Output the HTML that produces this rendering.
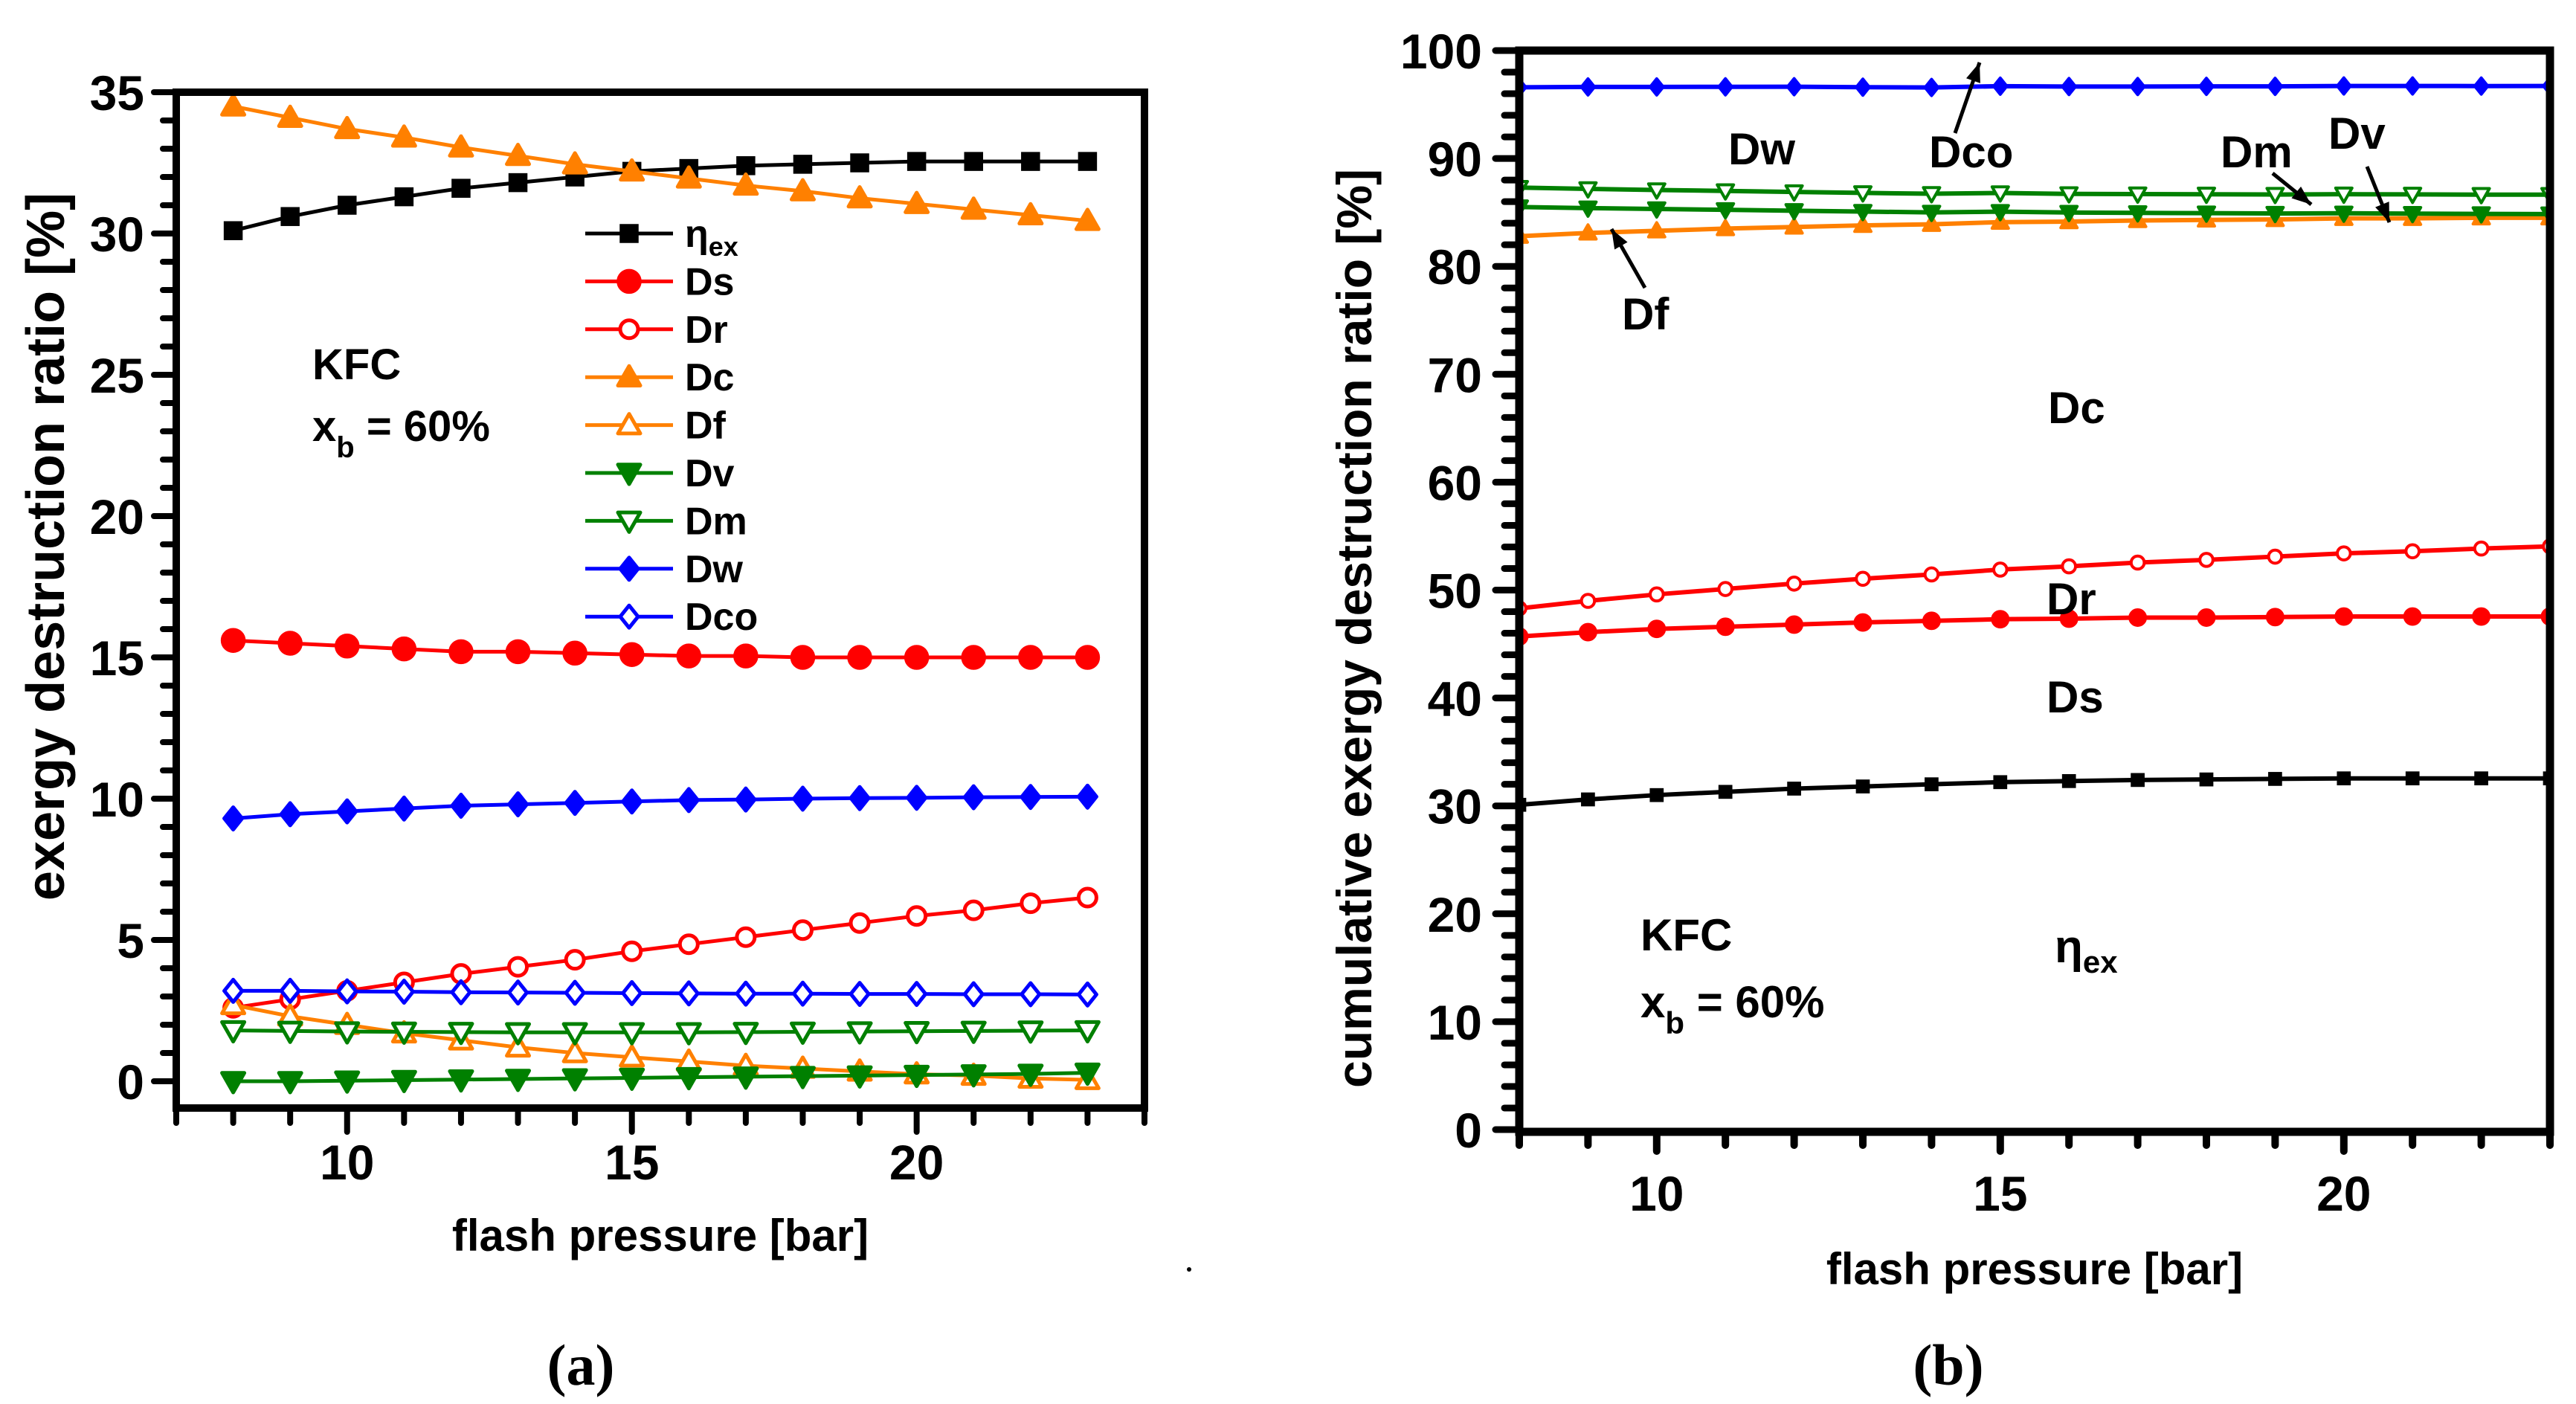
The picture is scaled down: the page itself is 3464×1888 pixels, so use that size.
<!DOCTYPE html>
<html><head><meta charset="utf-8">
<style>
html,body{margin:0;padding:0;background:#fff;}
svg{display:block;}
text{font-family:"Liberation Sans",Arial,sans-serif;font-weight:bold;fill:#000;}
</style></head>
<body>
<svg id="fig" width="3464" height="1888" viewBox="0 0 3464 1888" xmlns="http://www.w3.org/2000/svg">
<rect width="3464" height="1888" fill="#fff"/>
<g id="pa"></g>
<g id="pb"></g>
<text x="781" y="1862" font-size="78" text-anchor="middle" style="font-family:'Liberation Serif',serif">(a)</text>
<text x="2620" y="1862" font-size="78" text-anchor="middle" style="font-family:'Liberation Serif',serif">(b)</text>
<circle cx="1599" cy="1707" r="3" fill="#000"/>
</svg>
<script>
const pressures=[8,9,10,11,12,13,14,15,16,17,18,19,20,21,22,23];
const etaEx=[30.1,30.6,31.0,31.3,31.6,31.8,32.0,32.2,32.3,32.4,32.45,32.5,32.55,32.55,32.55,32.55];
const Ds=[15.6,15.5,15.4,15.3,15.2,15.2,15.15,15.1,15.05,15.05,15.0,15.0,15.0,15.0,15.0,15.0];
const Dr=[2.6,2.9,3.2,3.5,3.8,4.05,4.3,4.6,4.85,5.1,5.35,5.6,5.85,6.05,6.3,6.5];
const Dc=[34.5,34.1,33.7,33.4,33.05,32.75,32.45,32.2,31.95,31.7,31.5,31.25,31.05,30.85,30.65,30.45];
const Df=[2.7,2.3,2.0,1.7,1.45,1.2,1.0,0.85,0.7,0.55,0.45,0.35,0.25,0.2,0.1,0.05];
const Dv=[0,0,0.02,0.04,0.06,0.08,0.1,0.12,0.14,0.16,0.18,0.2,0.22,0.24,0.26,0.3];
const Dm=[1.8,1.78,1.76,1.75,1.74,1.73,1.73,1.73,1.73,1.74,1.75,1.76,1.77,1.78,1.79,1.8];
const Dw=[9.3,9.45,9.55,9.65,9.75,9.8,9.85,9.9,9.95,9.97,10.0,10.02,10.03,10.05,10.06,10.07];
const Dco=[3.2,3.2,3.18,3.17,3.15,3.14,3.13,3.12,3.11,3.1,3.1,3.09,3.09,3.08,3.08,3.07];
const yTicksA=[0,5,10,15,20,25,30,35];
const yTicksB=[0,10,20,30,40,50,60,70,80,90,100];
const xTicks=[10,15,20];

const NS="http://www.w3.org/2000/svg";
function mk(parent,tag,attrs){const e=document.createElementNS(NS,tag);for(const k in attrs)e.setAttribute(k,attrs[k]);parent.appendChild(e);return e;}

function marker(g,type,cx,cy,s,color,sw){
  let e;
  const h=s/2;
  const fill=type.endsWith('o')?'#fff':color;
  const t=type.replace(/o$/,'');
  if(t==='sq') e=mk(g,'rect',{x:cx-h*0.85,y:cy-h*0.85,width:s*0.85,height:s*0.85,fill:color});
  else if(t==='ci') e=mk(g,'circle',{cx:cx,cy:cy,r:h*(fill==='#fff'?0.8:0.95),fill:fill,stroke:color,'stroke-width':sw});
  else if(t==='tu') e=mk(g,'polygon',{points:`${cx},${cy-h} ${cx+h},${cy+h*0.75} ${cx-h},${cy+h*0.75}`,fill:fill,stroke:color,'stroke-width':sw,'stroke-linejoin':'round'});
  else if(t==='td') e=mk(g,'polygon',{points:`${cx},${cy+h} ${cx+h},${cy-h*0.75} ${cx-h},${cy-h*0.75}`,fill:fill,stroke:color,'stroke-width':sw,'stroke-linejoin':'round'});
  else if(t==='di') e=mk(g,'polygon',{points:`${cx},${cy-h} ${cx+h*0.8},${cy} ${cx},${cy+h} ${cx-h*0.8},${cy}`,fill:fill,stroke:color,'stroke-width':sw,'stroke-linejoin':'round'});
  return e;
}

function series(g,name,vals,xf,yf,color,type,ms,lw,mw){
  const sg=mk(g,'g',{});
  
  
  const pts=pressures.map((p,i)=>xf(p)+','+yf(vals[i])).join(' ');
  mk(sg,'polyline',{points:pts,fill:'none',stroke:color,'stroke-width':lw,'stroke-linejoin':'round'});
  pressures.forEach((p,i)=>{
    const m=marker(sg,type,xf(p),yf(vals[i]),ms,color,mw);
    
    
  });
}

/* ---------- Chart A ---------- */
const A=document.getElementById('pa');
const axL=237,axR=1539,axT=124,axB=1490;
const xA=v=>axL+(v-7)*(axR-axL)/17;
const yA=v=>1454-v*38;
for(let v=7;v<=24;v++){const maj=xTicks.includes(v);mk(A,'line',{x1:xA(v),y1:axB,x2:xA(v),y2:axB+(maj?32:20),stroke:'#000','stroke-width':8,'stroke-linecap':'round'});}
for(let v=0;v<=35;v++){const maj=v%5===0;mk(A,'line',{x1:axL,y1:yA(v),x2:axL-(maj?30:18),y2:yA(v),stroke:'#000','stroke-width':8,'stroke-linecap':'round'});}
yTicksA.forEach(v=>{const t=mk(A,'text',{x:194,y:yA(v)+24,'font-size':66,'text-anchor':'end'});t.textContent=v;

});
xTicks.forEach(v=>{const t=mk(A,'text',{x:xA(v),y:1586,'font-size':66,'text-anchor':'middle'});t.textContent=v;

});
const sA=[['eta-ex-series',etaEx,'#000','sq'],['ds-series',Ds,'#ff0000','ci'],['dr-series',Dr,'#ff0000','cio'],['dc-series',Dc,'#ff8000','tu'],['df-series',Df,'#ff8000','tuo'],['dv-series',Dv,'#008000','td'],['dm-series',Dm,'#008000','tdo'],['dw-series',Dw,'#0000ff','di'],['dco-series',Dco,'#0000ff','dio']];
sA.forEach(s=>series(A,s[0],s[1],xA,yA,s[2],s[3],30,5,5));
mk(A,'rect',{x:axL,y:axT,width:axR-axL,height:axB-axT,fill:'none',stroke:'#000','stroke-width':10});
const legLabels=['η','Ds','Dr','Dc','Df','Dv','Dm','Dw','Dco'];
sA.forEach((s,i)=>{
  const y=314+i*64.4;
  const lg=mk(A,'g',{});
  
  
  mk(lg,'line',{x1:787,y1:y,x2:905,y2:y,stroke:s[2],'stroke-width':5});
  marker(lg,s[3],846,y,30,s[2],5);
  const t=mk(lg,'text',{x:921,y:y+18,'font-size':52});
  t.textContent=legLabels[i];
  if(i===0){const ts=mk(t,'tspan',{'font-size':36,dy:12});ts.textContent='ex';}
});
let t;
t=mk(A,'text',{x:420,y:510,'font-size':58});t.textContent='KFC';


t=mk(A,'text',{x:420,y:593,'font-size':58});t.innerHTML='x<tspan font-size="40" dy="22">b</tspan><tspan dy="-22"> = 60%</tspan>';


t=mk(A,'text',{x:888,y:1682,'font-size':60,'text-anchor':'middle'});t.textContent='flash pressure [bar]';


t=mk(A,'text',{x:0,y:0,'font-size':72,'text-anchor':'middle','dominant-baseline':'central',transform:'translate(62,735) rotate(-90)'});t.textContent='exergy destruction ratio [%]';



/* ---------- Chart B ---------- */
const B=document.getElementById('pb');
const bL=2043,bR=3429,bT=68,bB=1522;
const xB=v=>bL+(v-8)*(bR-bL)/15;
const yB=v=>1519-v*14.51;
for(let v=8;v<=23;v++){const maj=xTicks.includes(v);mk(B,'line',{x1:xB(v),y1:bB,x2:xB(v),y2:bB+(maj?26:18),stroke:'#000','stroke-width':10,'stroke-linecap':'round'});}
for(let v=0;v<=100;v+=2){const maj=v%10===0;mk(B,'line',{x1:bL,y1:yB(v),x2:bL-(maj?32:20),y2:yB(v),stroke:'#000','stroke-width':9,'stroke-linecap':'round'});}
yTicksB.forEach(v=>{const tt=mk(B,'text',{x:1993,y:yB(v)+24,'font-size':66,'text-anchor':'end'});tt.textContent=v;

});
xTicks.forEach(v=>{const tt=mk(B,'text',{x:xB(v),y:1628,'font-size':66,'text-anchor':'middle'});tt.textContent=v;

});
const cum=(...arrs)=>pressures.map((_,i)=>arrs.reduce((s,a)=>s+a[i],0));
const sB=[['cum-eta-ex',cum(etaEx),'#000','sq'],['cum-ds',cum(etaEx,Ds),'#ff0000','ci'],['cum-dr',cum(etaEx,Ds,Dr),'#ff0000','cio'],['cum-dc',cum(etaEx,Ds,Dr,Dc),'#ff8000','tu'],['cum-dv',cum(etaEx,Ds,Dr,Dc,Df,Dv),'#008000','td'],['cum-dm',cum(etaEx,Ds,Dr,Dc,Df,Dv,Dm),'#008000','tdo'],['cum-dw',cum(etaEx,Ds,Dr,Dc,Df,Dv,Dm,Dw),'#0000ff','di']];
const cl=mk(B,'clipPath',{id:'cb'});mk(cl,'rect',{x:bL,y:bT-20,width:bR-bL,height:bB-bT+20});
const gB=mk(B,'g',{'clip-path':'url(#cb)'});
sB.forEach(s=>series(gB,s[0],s[1],xB,yB,s[2],s[3],22,6,4));
mk(B,'rect',{x:bL,y:bT,width:bR-bL,height:bB-bT,fill:'none',stroke:'#000','stroke-width':11});
const ann=[['Dw',2324,221],['Dco',2594,225],['Dm',2986,225],['Dv',3131,200],['Df',2181,443],['Dc',2754,569],['Dr',2752,826],['Ds',2752,958],['KFC',2206,1278]];
ann.forEach(a=>{const tt=mk(B,'text',{x:a[1],y:a[2],'font-size':60});tt.textContent=a[0];

});
t=mk(B,'text',{x:2206,y:1368,'font-size':60});t.innerHTML='x<tspan font-size="42" dy="22">b</tspan><tspan dy="-22"> = 60%</tspan>';


t=mk(B,'text',{x:2763,y:1294,'font-size':62});t.innerHTML='η<tspan font-size="42" dy="14">ex</tspan>';


const arrows=[[2629,179,2662,84],[2212,387,2167,308],[3056,233,3108,275],[3183,224,3213,299]];
arrows.forEach(a=>{
  const g=mk(B,'g',{});
  
  
  mk(g,'line',{x1:a[0],y1:a[1],x2:a[2],y2:a[3],stroke:'#000','stroke-width':5});
  const ang=Math.atan2(a[3]-a[1],a[2]-a[0]);const L=26,W=10;
  const bx=a[2]-L*Math.cos(ang),by=a[3]-L*Math.sin(ang);
  mk(g,'polygon',{points:`${a[2]},${a[3]} ${bx-W*Math.sin(ang)},${by+W*Math.cos(ang)} ${bx+W*Math.sin(ang)},${by-W*Math.cos(ang)}`,fill:'#000'});
});
t=mk(B,'text',{x:2736,y:1727,'font-size':60,'text-anchor':'middle'});t.textContent='flash pressure [bar]';


t=mk(B,'text',{x:0,y:0,'font-size':66,'text-anchor':'middle','dominant-baseline':'central',transform:'translate(1821,845) rotate(-90)'});t.textContent='cumulative exergy destruction ratio [%]';


</script>
</body></html>
